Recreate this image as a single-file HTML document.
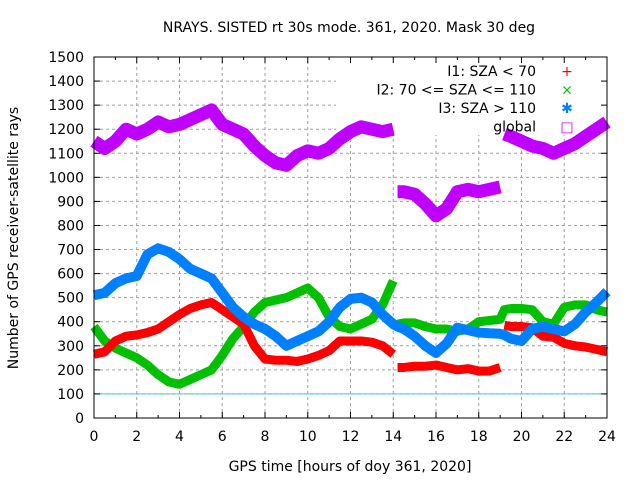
<!DOCTYPE html>
<html><head><meta charset="utf-8"><style>
body{margin:0;background:#fff}
svg{display:block;font-family:"DejaVu Sans","Liberation Sans",sans-serif;font-size:14px}
</style></head><body>
<svg id="chart" width="640" height="480" xmlns="http://www.w3.org/2000/svg">
<rect width="640" height="480" fill="#fff"/>
<text x="349" y="32" text-anchor="middle">NRAYS. SISTED rt 30s mode. 361, 2020. Mask 30 deg</text>
<text x="350" y="471" text-anchor="middle">GPS time [hours of doy 361, 2020]</text>
<text transform="translate(18,238) rotate(-90)" text-anchor="middle">Number of GPS receiver-satellite rays</text>
<g id="grid"></g><g id="ticks"></g><g id="series"></g>
<g id="legend"></g>
<rect x="94" y="57" width="513" height="361" fill="none" stroke="#000" stroke-width="1"/>
</svg>
<script>
const hours=[0,0.5,1,1.5,2,2.5,3,3.5,4,4.5,5,5.5,6,6.5,7,7.5,8,8.5,9,9.5,10,10.5,11,11.5,12,12.5,13,13.5,14,14.2,14.5,15,15.5,16,16.5,17,17.5,18,18.5,19,19.2,19.5,20,20.5,21,21.5,22,22.5,23,23.5,24];
const i1Values=[265,275,320,340,345,355,370,400,430,455,470,480,450,420,390,300,245,240,240,235,245,260,280,320,320,320,315,300,265,210,210,215,215,220,210,200,205,195,195,210,385,380,380,375,340,336,310,300,295,285,275];
const i1Breaks=[14.1,19.1];
const i2Values=[380,320,290,270,250,220,180,150,140,160,180,200,260,330,380,440,480,490,500,520,540,500,420,380,370,390,410,470,570,390,395,395,380,370,370,360,370,400,405,410,450,455,455,450,400,390,460,470,470,450,440];
const i2Breaks=[14.1];
const i3Values=[510,520,560,580,590,680,705,690,660,620,600,580,520,460,420,390,370,340,300,320,340,360,400,460,495,500,480,430,390,380,370,340,300,270,310,375,365,355,352,350,345,330,320,370,380,370,360,390,440,480,525];
const i3Breaks=[];
const globalValues=[1150,1120,1150,1200,1180,1200,1230,1210,1220,1240,1260,1280,1220,1200,1180,1130,1090,1060,1050,1090,1110,1100,1120,1160,1190,1210,1200,1190,1200,940,940,930,890,840,870,940,950,940,950,960,1180,1170,1150,1130,1120,1100,1120,1140,1170,1200,1230];
const globalBreaks=[14.1,19.1];
const xTicks=[0,2,4,6,8,10,12,14,16,18,20,22,24];
const yTicks=[0,100,200,300,400,500,600,700,800,900,1000,1100,1200,1300,1400,1500];
const NS="http://www.w3.org/2000/svg";
const X=h=>94+h*513/24, Y=v=>418-v*361/1500;
function mk(tag,attrs,parent){const e=document.createElementNS(NS,tag);for(const k in attrs)e.setAttribute(k,attrs[k]);parent.appendChild(e);return e;}
const grid=document.getElementById('grid'),ticks=document.getElementById('ticks');
yTicks.forEach(v=>{
  const inLegend=v>=1200;
  if(v>0&&v<1500){const l=mk('line',{x1:94,x2:inLegend?336:607,y1:Y(v),y2:Y(v),stroke:'#a0a0a0','stroke-dasharray':'3,3'},grid);
  
  }
  mk('line',{x1:94,x2:100,y1:Y(v),y2:Y(v),stroke:'#000'},ticks);
  mk('line',{x1:601,x2:607,y1:Y(v),y2:Y(v),stroke:'#000'},ticks);
  const t=mk('text',{x:84,y:Y(v)+5,'text-anchor':'end'},ticks);t.textContent=v;
  
  
});
for(let h=0;h<=24;h++){
  const major=h%2===0,len=major?6:3;
  mk('line',{x1:X(h),x2:X(h),y1:418,y2:418-len,stroke:'#000'},ticks);
  mk('line',{x1:X(h),x2:X(h),y1:57,y2:57+len,stroke:'#000'},ticks);
}
xTicks.forEach(h=>{
  if(h>0&&h<24){const l=mk('line',{x1:X(h),x2:X(h),y1:418,y2:(X(h)>336?135:57),stroke:'#a0a0a0','stroke-dasharray':'3,3'},grid);
  
  }
  const t=mk('text',{x:X(h),y:441,'text-anchor':'middle'},ticks);t.textContent=h;
  
  
});
const ref=mk('line',{x1:94,x2:607,y1:Y(100),y2:Y(100),stroke:'#40d0d0'},grid);


const sg=document.getElementById('series');
function drawSeries(vals,breaks,color,w,name){
  let segs=[[]];
  hours.forEach((h,i)=>{
    if(i>0&&breaks.some(b=>hours[i-1]<b&&h>b))segs.push([]);
    segs[segs.length-1].push([X(h),Y(vals[i])]);
  });
  segs.forEach(s=>{
    const p=mk('polyline',{points:s.map(q=>q.join(',')).join(' '),fill:'none',stroke:color,'stroke-width':w,'stroke-linejoin':'round','stroke-linecap':'butt'},sg);
    
    
  });
}
drawSeries(globalValues,globalBreaks,'#c000ff',13,'series-global');
drawSeries(i2Values,i2Breaks,'#00c000',9,'series-i2');
drawSeries(i1Values,i1Breaks,'#ff0000',9,'series-i1');
drawSeries(i3Values,i3Breaks,'#0080ff',10,'series-i3');
const lg=document.getElementById('legend');
const entries=[['I1: SZA < 70','#ff0000','+'],['I2: 70 <= SZA <= 110','#00c000','×'],['I3: SZA > 110','#0080ff','✱'],['global','#c000ff','□']];
entries.forEach((e,i)=>{
  const y=76+i*18.5;
  const t=mk('text',{x:536,y:y,'text-anchor':'end'},lg);t.textContent=e[0];
  
  
  const m=mk('text',{x:567,y:y,'text-anchor':'middle',fill:e[1]},lg);m.textContent=e[2];
  
  
});
</script>
</body></html>
